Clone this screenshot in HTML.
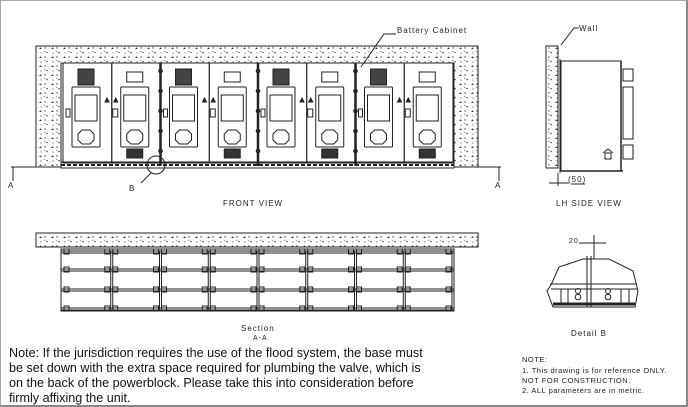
<!DOCTYPE html>
<html><head><meta charset="utf-8"><style>
html,body{margin:0;padding:0;background:#fff}
#w{position:relative;width:688px;height:407px;box-sizing:border-box;border:2px solid #888;border-top:1px solid #aaa;border-left:1px solid #aaa;overflow:hidden}
svg{position:absolute;left:0;top:0}
.t{font-family:"Liberation Sans",sans-serif;fill:#222;letter-spacing:1px}
.s{letter-spacing:0.5px}
.note{position:absolute;left:8px;top:345px;font-family:"Liberation Sans",Arial,sans-serif;font-size:12.6px;line-height:15px;color:#111;width:422px}
</style></head><body><div id="w">
<svg id="s" width="688" height="407" viewBox="0 0 688 407">
<defs>
<pattern id="conc" width="12" height="9" patternUnits="userSpaceOnUse">
<rect width="12" height="9" fill="#fff"/>
<path d="M2 3l1.5-1.8 1.5 1.8z" fill="#444"/><circle cx="8" cy="2" r=".7" fill="#444"/><circle cx="10" cy="6.5" r=".8" fill="#444"/><circle cx="4" cy="7" r=".6" fill="#555"/><path d="M7 6l1.2-1.2" stroke="#555" stroke-width=".6"/>
</pattern>
</defs>
<g stroke="#222" fill="none" stroke-width="1">
<path d="M35 45H477V166H453V62H60V166H35Z" fill="url(#conc)"/>
<rect x="60" y="62" width="393" height="101" fill="#fff"/>
<rect x="60" y="161" width="393" height="6" fill="#fff"/>
<path d="M60 164H453" stroke-dasharray="4 2" stroke-width="2"/>
<path d="M10 166H35M477 166H500M12 166V180M498 166V180"/>
<g id="cabs"></g>
<circle cx="155" cy="164" r="9"/>
<path d="M150 172L140 182"/>
<path d="M360 66L383 33H395"/>
<rect x="545" y="45" width="12" height="122" fill="url(#conc)"/>
<path d="M557 45V167M559 58V172"/>
<rect x="560" y="60" width="60" height="110" fill="#fff"/>
<path d="M560 170H622M620 60V170" stroke-width="1.5"/>
<rect x="622" y="68" width="10" height="12"/>
<rect x="622" y="86" width="10" height="52"/>
<rect x="622" y="144" width="10" height="14"/>
<path d="M604 158V152H610V158ZM602 152L607 148 612 152"/>
<path d="M557 172V185M548 182H568M570 183H584"/>
<path d="M560 44L573 27H578"/>
<rect x="35" y="232" width="442" height="14" fill="url(#conc)"/>
<g id="sec"></g>
<path d="M550 284L558 266 582 258 608 258 632 270 637 290 634 306H552L546 290Z" fill="#fff"/>
<path d="M549 283H636M550 288H636M552 306H634" />
<path d="M552 303H634" stroke-width="3"/>
<path d="M586 255V306M590 255V306M593 234V258M578 242H605"/>
<path d="M560 288V303M567 288V303M620 288V303M628 288V303"/>
<circle cx="577" cy="290" r="2.5"/><circle cx="577" cy="296" r="2.8"/><circle cx="607" cy="290" r="2.5"/><circle cx="607" cy="296" r="2.8"/>
</g>
<text class="t" x="396" y="32" font-size="8">Battery Cabinet</text>
<text class="t" x="578" y="30" font-size="8">Wall</text>
<text class="t" x="7" y="187" font-size="8">A</text>
<text class="t" x="494" y="187" font-size="8">A</text>
<text class="t" x="128" y="190" font-size="8">B</text>
<text class="t" x="222" y="205" font-size="8">FRONT VIEW</text>
<text class="t" x="567" y="181" font-size="8">(50)</text>
<text class="t" x="555" y="205" font-size="8">LH SIDE VIEW</text>
<text class="t" x="240" y="330" font-size="8">Section</text>
<text class="t" x="252" y="339" font-size="7">A-A</text>
<text class="t" x="568" y="242" font-size="7">20</text>
<text class="t" x="570" y="335" font-size="8">Detail B</text>
<text class="t s" x="521" y="361" font-size="7.5">NOTE:</text>
<text class="t s" x="521" y="372" font-size="7.5">1. This drawing is for reference ONLY.</text>
<text class="t s" x="521" y="382" font-size="7.5">NOT FOR CONSTRUCTION.</text>
<text class="t s" x="521" y="392" font-size="7.5">2. ALL parameters are in metric.</text>
</svg>
<div class="note">Note: If the jurisdiction requires the use of the flood system, the base must be set down with the extra space required for plumbing the valve, which is on the back of the powerblock. Please take this into consideration before firmly affixing the unit.</div>
</div>
<script>
var ns="http://www.w3.org/2000/svg";
function el(p,t,a){var e=document.createElementNS(ns,t);for(var k in a)e.setAttribute(k,a[k]);p.appendChild(e);return e;}
var g=document.getElementById("cabs"),w=48.75;
for(var i=0;i<8;i++){var x=62+i*w;
 el(g,"rect",{x:x,y:62,width:w,height:100});
 var odd=i%2==0;
 el(g,"rect",{x:x+15,y:odd?68:71,width:16,height:odd?16:10,fill:odd?"#444":"#fff"});
 el(g,"rect",{x:x+9,y:86,width:28,height:60,rx:1});
 el(g,"rect",{x:x+12,y:94,width:22,height:26});
 el(g,"path",{d:"M"+(x+19)+" 129h8l4 4v6l-4 4h-8l-4-4v-6z"});
 if(!odd)el(g,"rect",{x:x+15,y:148,width:16,height:9,fill:"#333"});
 if(odd){el(g,"rect",{x:x+3,y:108,width:4,height:8});el(g,"path",{d:"M"+(x+42)+" 101l2-4 2 4z",fill:"#222"});}
 else{el(g,"rect",{x:x+1,y:108,width:5,height:8});el(g,"path",{d:"M"+(x+2)+" 101l2-4 2 4z",fill:"#222"});}
 if(i%2==1&&i<7){el(g,"path",{d:"M"+(x+w)+" 62V165","stroke-width":2.5});
  for(var y of [70,90,110,130,150])el(g,"circle",{cx:x+w,cy:y,r:1.8,fill:"#222"});}
}
var s=document.getElementById("sec");
el(s,"rect",{x:60,y:248,width:393,height:62});
for(var y of [250,268,288,307]){el(s,"path",{d:"M60 "+y+"H453M60 "+(y+2)+"H453"});}
for(var i=0;i<8;i++){var x=62+i*w;
 el(s,"path",{d:"M"+(x+w-1)+" 250V310M"+(x+w+1)+" 250V310"});
 for(var y of [250,268,288,307]){el(s,"rect",{x:x+1,y:y-2,width:5,height:5});el(s,"rect",{x:x+w-7,y:y-2,width:5,height:5});}
}
</script>
</body></html>
